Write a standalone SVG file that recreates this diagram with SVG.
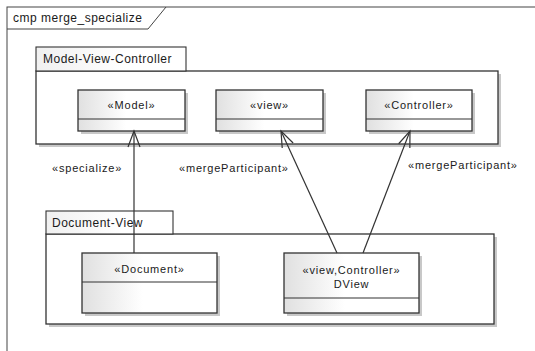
<svg xmlns="http://www.w3.org/2000/svg" width="535" height="351" viewBox="0 0 535 351">
<defs>
<linearGradient id="cg" x1="0" y1="0" x2="1" y2="0">
<stop offset="0" stop-color="#e0e0e0"/>
<stop offset="0.45" stop-color="#ffffff"/>
</linearGradient>
<linearGradient id="tg" x1="0" y1="0" x2="1" y2="0">
<stop offset="0" stop-color="#f0f0f0"/>
<stop offset="0.6" stop-color="#ffffff"/>
</linearGradient>
<marker id="open" markerUnits="userSpaceOnUse" markerWidth="20" markerHeight="16" viewBox="-18 -8 20 16" refX="0" refY="0" orient="auto">
<path d="M -16 -6 L 0 0 L -16 6" fill="none" stroke="#333" stroke-width="1.2"/>
</marker>
</defs>
<style>
text{font-family:"Liberation Sans",Arial,sans-serif;fill:#1a1a1a}
.pk{font-size:12px;letter-spacing:0.5px}
.cl{font-size:11px;letter-spacing:0.8px;text-anchor:middle}
.lb{font-size:11px;letter-spacing:0.8px}
.sh{fill:#c8c8c8}
.box{fill:url(#cg);stroke:#333;stroke-width:1.3}
.body{fill:#fff;stroke:#333;stroke-width:1.3}
.tab{fill:url(#tg);stroke:#333;stroke-width:1.1}
.div{stroke:#333;stroke-width:1.2}
.con{fill:none;stroke:#333;stroke-width:1.2;marker-end:url(#open)}
</style>
<rect width="535" height="351" fill="#fff"/>
<g id="frame">
<rect x="7" y="7" width="600" height="400" fill="none" stroke="#444" stroke-width="1"/>
<path d="M7 29 H148 L166 7" fill="none" stroke="#444" stroke-width="1"/>
<text class="pk" x="13" y="22">cmp merge_specialize</text>
</g>
<g id="pkg-mvc">
<rect class="sh" x="39" y="74" width="462" height="73"/>
<rect class="body" x="36" y="71" width="462" height="73"/>
<rect class="tab" x="36" y="47" width="150" height="24"/>
<text class="pk" x="43" y="63">Model-View-Controller</text>
</g>
<g id="pkg-dv">
<rect class="sh" x="49" y="237" width="448" height="90"/>
<rect class="body" x="46" y="234" width="448" height="90"/>
<rect class="tab" x="46" y="211" width="127" height="23"/>
<text class="pk" x="52" y="227">Document-View</text>
</g>
<g id="model">
<rect class="sh" x="81" y="93" width="107" height="41"/>
<rect class="box" x="78" y="90" width="107" height="41"/>
<line class="div" x1="78" y1="119" x2="185" y2="119"/>
<text class="cl" x="131.5" y="109">«Model»</text>
</g>
<g id="view">
<rect class="sh" x="219" y="93" width="107" height="41"/>
<rect class="box" x="216" y="90" width="107" height="41"/>
<line class="div" x1="216" y1="119" x2="323" y2="119"/>
<text class="cl" x="269.5" y="109">«view»</text>
</g>
<g id="controller">
<rect class="sh" x="369" y="93" width="106" height="41"/>
<rect class="box" x="366" y="90" width="106" height="41"/>
<line class="div" x1="366" y1="119" x2="472" y2="119"/>
<text class="cl" x="419" y="109">«Controller»</text>
</g>
<g id="document">
<rect class="sh" x="85" y="256" width="135" height="60"/>
<rect class="box" x="82" y="253" width="135" height="60"/>
<line class="div" x1="82" y1="282" x2="217" y2="282"/>
<text class="cl" x="149.5" y="273">«Document»</text>
</g>
<g id="dview">
<rect class="sh" x="287" y="256" width="135" height="60"/>
<rect class="box" x="284" y="253" width="135" height="60"/>
<line class="div" x1="284" y1="298" x2="419" y2="298"/>
<text class="cl" x="351.5" y="274">«view,Controller»</text>
<text class="cl" x="351.5" y="288">DView</text>
</g>
<g id="connectors">
<line class="con" x1="134" y1="253" x2="134" y2="131"/>
<line class="con" x1="337" y1="253" x2="281" y2="131"/>
<line class="con" x1="363" y1="253" x2="410" y2="131"/>
<text class="lb" x="52" y="172">«specialize»</text>
<text class="lb" x="179" y="172">«mergeParticipant»</text>
<text class="lb" x="408" y="169">«mergeParticipant»</text>
</g>
</svg>
